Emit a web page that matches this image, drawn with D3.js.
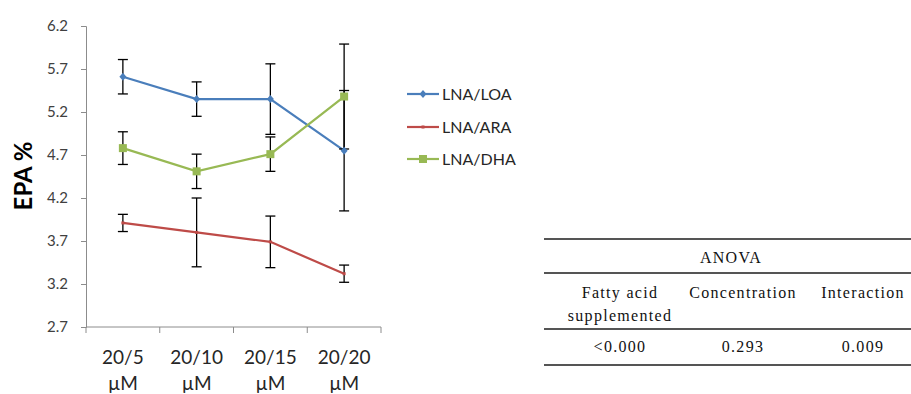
<!DOCTYPE html>
<html>
<head>
<meta charset="utf-8">
<script src="https://cdn.jsdelivr.net/npm/d3@7"></script>
<style>
  html, body { margin: 0; padding: 0; background: #fff; }
  svg { display: block; }
</style>
</head>
<body>
<svg id="chart" width="911" height="394"></svg>
<script>
// Concentration groups (two-line labels)
const categories = ["20/5", "20/10", "20/15", "20/20"];
const unitLabel = "\u00b5M";
const yTicks = [2.7, 3.2, 3.7, 4.2, 4.7, 5.2, 5.7, 6.2];

// EPA % means and error (±) per series
const seriesNames = ["LNA/LOA", "LNA/ARA", "LNA/DHA"];
const loaMean = [5.61, 5.35, 5.35, 4.75];
const loaErr  = [0.20, 0.20, 0.41, 0.70];
const araMean = [3.91, 3.80, 3.69, 3.32];
const araErr  = [0.10, 0.40, 0.30, 0.10];
const dhaMean = [4.78, 4.51, 4.71, 5.38];
const dhaErr  = [0.19, 0.20, 0.20, 0.61];
const seriesColors = ["#4a7ebb", "#be4b48", "#98b954"];

// ANOVA table
const anovaTitle = "ANOVA";
const anovaHeaders = [["Fatty acid", "supplemented"], ["Concentration"], ["Interaction"]];
const anovaValues = ["<0.000", "0.293", "0.009"];

const series = [
  { name: seriesNames[0], mean: loaMean, err: loaErr, color: seriesColors[0], marker: "diamond" },
  { name: seriesNames[1], mean: araMean, err: araErr, color: seriesColors[1], marker: "dash" },
  { name: seriesNames[2], mean: dhaMean, err: dhaErr, color: seriesColors[2], marker: "square" }
];

const svg = d3.select("#chart");
const font = "Lato, 'Open Sans', sans-serif";
const axisColor = "#8c8c8c";

const plot = { left: 86, right: 381, top: 26, bottom: 327 };
const x = d3.scaleBand().domain(categories).range([plot.left, plot.right]);
const y = d3.scaleLinear().domain([2.7, 6.2]).range([plot.bottom, plot.top]);

// Y axis
const yAxis = svg.append("g")
  .attr("transform", `translate(${plot.left},0)`)
  .call(d3.axisLeft(y).tickValues(yTicks).tickFormat(d3.format(".1f")).tickSize(5).tickPadding(13));
yAxis.select(".domain").attr("stroke", axisColor);
yAxis.selectAll(".tick line").attr("stroke", axisColor);
yAxis.selectAll(".tick text").attr("font-family", font).attr("font-size", 15).attr("fill", "#404040");

// X axis (ticks at band boundaries)
const xg = svg.append("g").attr("transform", `translate(0,${plot.bottom})`);
xg.append("line").attr("x1", plot.left).attr("x2", plot.right).attr("stroke", axisColor);
const boundaries = categories.map(c => x(c)).concat([x(categories[categories.length - 1]) + x.bandwidth()]);
xg.selectAll("line.tk").data(boundaries).join("line")
  .attr("class", "tk")
  .attr("x1", d => d).attr("x2", d => d).attr("y1", 0).attr("y2", 6)
  .attr("stroke", axisColor);
const xl = xg.selectAll("text.lab").data(categories).join("text")
  .attr("class", "lab")
  .attr("font-family", font).attr("font-size", 19).attr("fill", "#262626")
  .attr("text-anchor", "middle");
xl.append("tspan").attr("x", d => x(d) + x.bandwidth() / 2).attr("y", 37).text(d => d);
xl.append("tspan").attr("x", d => x(d) + x.bandwidth() / 2).attr("y", 63).text(unitLabel);

// Y axis title
svg.append("text")
  .attr("transform", "translate(32,176) rotate(-90)")
  .attr("text-anchor", "middle")
  .attr("font-family", font).attr("font-size", 24).attr("font-weight", "bold").attr("fill", "#000")
  .text("EPA %");

const cx = c => x(c) + x.bandwidth() / 2;

// Lines
const line = d3.line().x((d, i) => cx(categories[i])).y(d => y(d));
series.forEach(s => {
  svg.append("path").datum(s.mean)
    .attr("d", line).attr("fill", "none")
    .attr("stroke", s.color).attr("stroke-width", 2.2);
});

function drawMarker(g, type, color, px, py) {
  if (type === "diamond") {
    g.append("path").attr("d", `M${px},${py - 4}L${px + 3.5},${py}L${px},${py + 4}L${px - 3.5},${py}Z`).attr("fill", color);
  } else if (type === "square") {
    g.append("rect").attr("x", px - 4).attr("y", py - 4).attr("width", 8).attr("height", 8).attr("fill", color);
  } else {
    g.append("rect").attr("x", px - 1.5).attr("y", py - 1.5).attr("width", 3).attr("height", 3).attr("fill", color);
  }
}

// Error bars then markers
const eb = svg.append("g");
series.forEach(s => {
  s.mean.forEach((m, i) => {
    const px = cx(categories[i]);
    const y0 = y(m - s.err[i]), y1 = y(m + s.err[i]);
    eb.append("line").attr("x1", px).attr("x2", px).attr("y1", y0).attr("y2", y1).attr("stroke", "#000").attr("stroke-width", 1.3);
    [y0, y1].forEach(yy => eb.append("line").attr("x1", px - 5).attr("x2", px + 5).attr("y1", yy).attr("y2", yy).attr("stroke", "#000").attr("stroke-width", 1.3));
  });
});
const mk = svg.append("g");
series.forEach(s => {
  s.mean.forEach((m, i) => drawMarker(mk, s.marker, s.color, cx(categories[i]), y(m)));
});

// Legend
const legendY = [94, 127, 159];
series.forEach((s, i) => {
  const g = svg.append("g").attr("transform", `translate(407,${legendY[i]})`);
  g.append("line").attr("x1", 0).attr("x2", 32).attr("stroke", s.color).attr("stroke-width", 2.2);
  drawMarker(g, s.marker, s.color, 16, 0);
  g.append("text").attr("x", 35).attr("y", 5.5)
    .attr("font-family", font).attr("font-size", 16).attr("fill", "#262626")
    .text(s.name);
});

// ANOVA table
const tbl = svg.append("g")
  .attr("font-family", "'Liberation Serif', 'Times New Roman', serif")
  .attr("font-size", 16).attr("letter-spacing", 1.3).attr("fill", "#111");
const tx0 = 544, tx1 = 911;
[239, 273, 329, 365].forEach(ly => {
  tbl.append("line").attr("x1", tx0).attr("x2", tx1).attr("y1", ly).attr("y2", ly)
    .attr("stroke", "#555").attr("stroke-width", 1.8);
});
tbl.append("text").attr("x", 731).attr("y", 263).attr("text-anchor", "middle").text(anovaTitle);
const colX = [620, 743, 863];
anovaHeaders.forEach((h, i) => {
  h.forEach((t, j) => {
    tbl.append("text").attr("x", colX[i]).attr("y", 298 + j * 23).attr("text-anchor", "middle").text(t);
  });
});
anovaValues.forEach((v, i) => {
  tbl.append("text").attr("x", colX[i]).attr("y", 352).attr("text-anchor", "middle").text(v);
});
</script>
</body>
</html>
